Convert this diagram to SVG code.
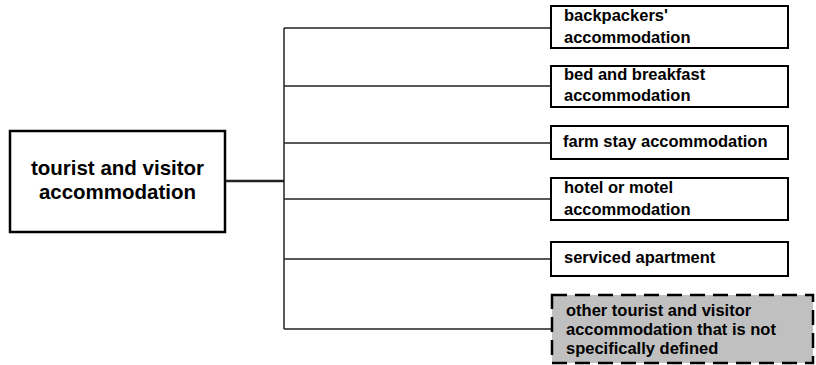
<svg xmlns="http://www.w3.org/2000/svg" width="816" height="365" viewBox="0 0 816 365">
<style>
.box{fill:#fff;stroke:#000;stroke-width:2}
.other{fill:#c0c0c0;stroke:#000;stroke-width:2.5;stroke-dasharray:15 8}
.t{font-family:"Liberation Sans",Arial,sans-serif;font-weight:bold;font-size:16.5px;fill:#000}
.main{font-family:"Liberation Sans",Arial,sans-serif;font-weight:bold;font-size:20.5px;fill:#000;text-anchor:middle}
.c{stroke:#222;stroke-width:1.5;fill:none}
</style>
<rect width="816" height="365" fill="#fff"/>
<g id="connectors">
<line class="c" x1="225" y1="181" x2="284" y2="181" style="stroke-width:2.5"/>
<line class="c" x1="284" y1="28" x2="284" y2="329"/>
<line class="c" x1="284" y1="28" x2="551" y2="28"/>
<line class="c" x1="284" y1="86" x2="551" y2="86"/>
<line class="c" x1="284" y1="143" x2="551" y2="143"/>
<line class="c" x1="284" y1="199" x2="551" y2="199"/>
<line class="c" x1="284" y1="259" x2="551" y2="259"/>
<line class="c" x1="284" y1="329" x2="551" y2="329"/>
</g>
<g id="root">
<rect class="box" x="10" y="131" width="215" height="101" style="stroke-width:2.5"/>
<text class="main" x="117.5" y="175">tourist and visitor</text>
<text class="main" x="117.5" y="199">accommodation</text>
</g>
<g id="backpackers">
<rect class="box" x="551" y="6" width="237" height="42"/>
<text class="t" x="564" y="21">backpackers'</text>
<text class="t" x="564" y="43">accommodation</text>
</g>
<g id="bnb">
<rect class="box" x="551" y="66" width="237" height="41"/>
<text class="t" x="564" y="80">bed and breakfast</text>
<text class="t" x="564" y="101">accommodation</text>
</g>
<g id="farmstay">
<rect class="box" x="551" y="126" width="237" height="33"/>
<text class="t" x="563" y="147">farm stay accommodation</text>
</g>
<g id="hotel">
<rect class="box" x="551" y="178" width="237" height="42"/>
<text class="t" x="564" y="193">hotel or motel</text>
<text class="t" x="564" y="215">accommodation</text>
</g>
<g id="serviced">
<rect class="box" x="551" y="242" width="237" height="34"/>
<text class="t" x="564" y="263">serviced apartment</text>
</g>
<g id="other">
<rect class="other" x="552" y="295" width="261" height="68"/>
<text class="t" x="566" y="316">other tourist and visitor</text>
<text class="t" x="566" y="335">accommodation that is not</text>
<text class="t" x="566" y="354">specifically defined</text>
</g>
</svg>
